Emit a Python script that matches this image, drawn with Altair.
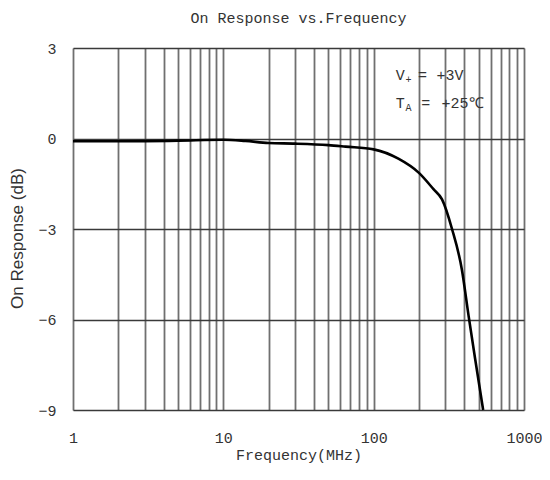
import altair as alt
import pandas as pd

freq_mhz = [1, 2, 5, 10, 14, 20, 30, 50, 65, 100, 146, 200, 250, 285, 332, 386, 428, 473, 535]
response_db = [-0.09, -0.09, -0.07, -0.04, -0.08, -0.15, -0.17, -0.22, -0.27, -0.36,
               -0.67, -1.14, -1.68, -2.02, -3.0, -4.34, -5.88, -7.3, -9.0]

x_grid_values = [1, 2, 3, 4, 5, 6, 7, 8, 9,
                 10, 20, 30, 40, 50, 60, 70, 80, 90,
                 100, 200, 300, 400, 500, 600, 700, 800, 900, 1000]
y_tick_values = [-9, -6, -3, 0, 3]

# annotation texts (data coordinates: MHz, dB)
ann_main = ["V", "T"]
ann_sub = ["+", "A"]
ann_eq = ["=", "="]
ann_val = ["+3V", "+25℃"]
ann_x = [140, 140]
ann_sub_x = [163, 163]
ann_eq_x = [197, 207]
ann_val_x = [262, 283]
ann_y = [2.12, 1.19]

FONT = "Liberation Mono"
TXT = "#333333"

df = pd.DataFrame({"f": freq_mhz, "r": response_db})
ann = pd.DataFrame({"m": ann_main, "s": ann_sub, "e": ann_eq, "v": ann_val,
                    "x": ann_x, "xs": ann_sub_x, "xe": ann_eq_x, "xv": ann_val_x, "y": ann_y})

xscale = alt.Scale(type="log", domain=[1, 1000], nice=False)
yscale = alt.Scale(domain=[-9, 3], nice=False)

xaxis = alt.Axis(
    title="Frequency(MHz)", values=x_grid_values, format="d",
    labelExpr="(datum.value == 1 || datum.value == 10 || datum.value == 100 || datum.value == 1000) ? datum.label : ''",
    labelOverlap=False, labelFlush=False, ticks=False, domain=False,
    grid=True, gridColor="#707070", gridWidth=1.8,
    labelFont=FONT, labelFontSize=15, labelColor=TXT, labelPadding=20,
    titleFont=FONT, titleFontSize=15, titleColor=TXT, titleFontWeight="normal", titlePadding=2,
)
yaxis = alt.Axis(
    title="On Response (dB)", values=y_tick_values, format="d",
    ticks=False, domain=False, grid=True, gridColor="#3a3a3a", gridWidth=1.6,
    labelFont=FONT, labelFontSize=15, labelColor=TXT, labelPadding=17,
    titleFont="Liberation Sans", titleFontSize=17, titleColor=TXT, titleFontWeight="normal",
    titlePadding=11, titleY=190,
)

line = alt.Chart(df).mark_line(color="black", strokeWidth=2.6, interpolate="monotone").encode(
    x=alt.X("f:Q", scale=xscale, axis=xaxis),
    y=alt.Y("r:Q", scale=yscale, axis=yaxis),
)

t_main = alt.Chart(ann).mark_text(font=FONT, fontSize=15, color=TXT, align="left", baseline="middle").encode(
    x=alt.X("x:Q", scale=xscale), y=alt.Y("y:Q", scale=yscale), text="m:N"
)
t_sub = alt.Chart(ann).mark_text(font=FONT, fontSize=10, color=TXT, align="left", baseline="middle", dy=5).encode(
    x=alt.X("xs:Q", scale=xscale), y=alt.Y("y:Q", scale=yscale), text="s:N"
)
t_eq = alt.Chart(ann).mark_text(font=FONT, fontSize=15, color=TXT, align="left", baseline="middle").encode(
    x=alt.X("xe:Q", scale=xscale), y=alt.Y("y:Q", scale=yscale), text="e:N"
)
t_val = alt.Chart(ann).mark_text(font=FONT, fontSize=15, color=TXT, align="left", baseline="middle").encode(
    x=alt.X("xv:Q", scale=xscale), y=alt.Y("y:Q", scale=yscale), text="v:N"
)

chart = alt.layer(line, t_main, t_sub, t_eq, t_val).properties(
    width=451, height=362,
    autosize=alt.AutoSizeParams(type="none"),
    padding={"left": 65, "top": 40, "right": 18, "bottom": 54},
    title=alt.TitleParams("On Response vs.Frequency", font=FONT, fontSize=15, color=TXT,
                          fontWeight="normal", offset=15),
).configure_view(stroke="black", strokeWidth=2.4).configure(background="white")

chart.save("out.html", embed_options={"renderer": "svg", "actions": False})
